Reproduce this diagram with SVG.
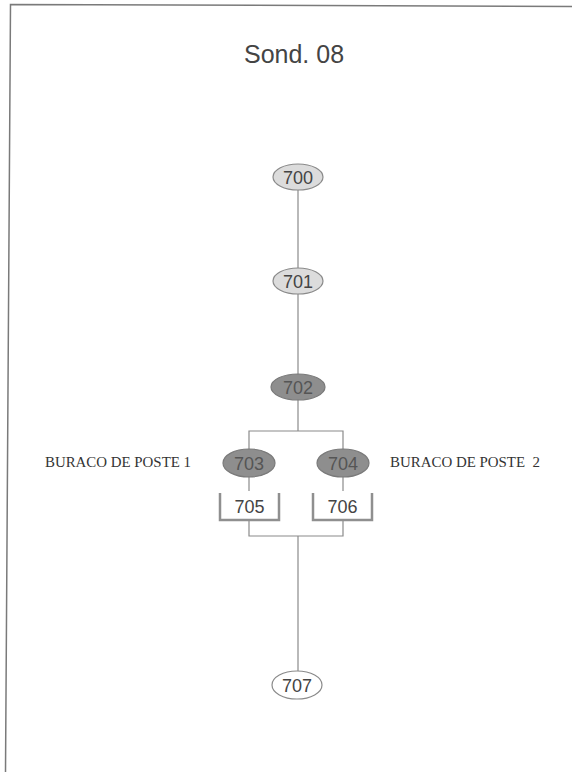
<svg xmlns="http://www.w3.org/2000/svg" width="572" height="772" viewBox="0 0 572 772">
<style>
.ln{stroke:#8a8a8a;stroke-width:1.2;fill:none}
.light{fill:#dcdcdc;stroke:#8a8a8a;stroke-width:1.2}
.dark{fill:#8e8e8e;stroke:#7a7a7a;stroke-width:1.2}
.white{fill:#ffffff;stroke:#8a8a8a;stroke-width:1.2}
.box{fill:none;stroke:#8f8f8f;stroke-width:2.5}
.t{font-family:"Liberation Sans",Arial,sans-serif;font-size:18px;fill:#444;text-anchor:middle}
.td{font-family:"Liberation Sans",Arial,sans-serif;font-size:18px;fill:#555;text-anchor:middle}
.lab{font-family:"Liberation Serif","Times New Roman",serif;font-size:14px;fill:#333}
</style>
<rect width="572" height="772" fill="#ffffff"/>
<polyline points="572,6.5 10.5,4.5 5.5,772" fill="none" stroke="#7a7a7a" stroke-width="1.5"/>
<text x="294" y="63" font-family="Liberation Sans,Arial,sans-serif" font-size="25" fill="#444" text-anchor="middle">Sond. 08</text>
<g id="connectors">
<line class="ln" x1="298" y1="190" x2="298" y2="268"/>
<line class="ln" x1="298" y1="294" x2="298" y2="374"/>
<polyline class="ln" points="298,400 298,431"/>
<polyline class="ln" points="249,449 249,431 343,431 343,449"/>
<line class="ln" x1="249" y1="477" x2="249" y2="491"/>
<line class="ln" x1="343" y1="477" x2="343" y2="491"/>
<polyline class="ln" points="249,521 249,536 343,536 343,521"/>
<line class="ln" x1="298" y1="536" x2="298" y2="671"/>
</g>
<g id="n700"><ellipse class="light" cx="298" cy="177" rx="25" ry="13"/><text class="t" x="298" y="183.5">700</text></g>
<g id="n701"><ellipse class="light" cx="298" cy="281" rx="25" ry="13"/><text class="t" x="298" y="287.5">701</text></g>
<g id="n702"><ellipse class="dark" cx="298" cy="387" rx="27" ry="13"/><text class="td" x="298" y="393.5">702</text></g>
<g id="n703"><ellipse class="dark" cx="249" cy="463" rx="26" ry="14"/><text class="td" x="249" y="469.5">703</text></g>
<g id="n704"><ellipse class="dark" cx="343" cy="463" rx="26" ry="14"/><text class="td" x="343" y="469.5">704</text></g>
<g id="n705"><polyline class="box" points="220,493 220,520 279,520 279,493"/><text class="t" x="249.5" y="513">705</text></g>
<g id="n706"><polyline class="box" points="313,493 313,520 372,520 372,493"/><text class="t" x="342.5" y="513">706</text></g>
<g id="n707"><ellipse class="white" cx="297" cy="685" rx="25" ry="14"/><text class="t" x="297" y="691.5">707</text></g>
<text class="lab" x="45" y="467" textLength="146" lengthAdjust="spacingAndGlyphs">BURACO DE POSTE 1</text>
<text class="lab" x="390" y="467" textLength="150" lengthAdjust="spacingAndGlyphs" xml:space="preserve">BURACO DE POSTE  2</text>
</svg>
